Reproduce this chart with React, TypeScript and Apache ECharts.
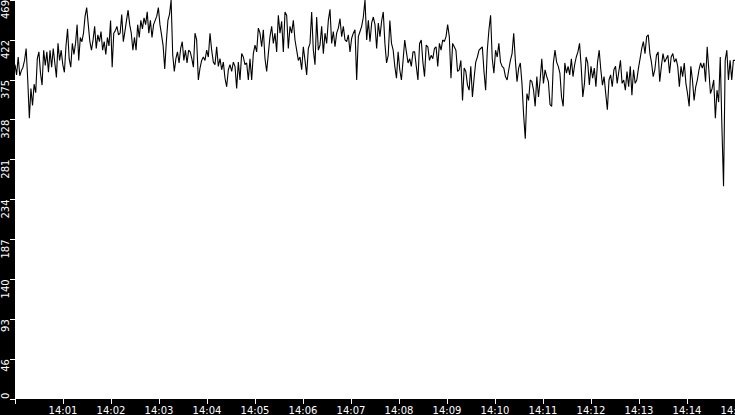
import React, { useEffect, useRef } from 'react';
import * as echarts from 'echarts';

// time window shown on the x axis
const startTime = new Date(2024, 0, 1, 14, 0, 0).getTime();
const endTime = new Date(2024, 0, 1, 14, 15, 0).getTime();

// y tick labels as printed on the chart
const yTickLabels = [0, 46, 93, 140, 187, 234, 281, 328, 375, 422, 469];

// readings, one block per 3m45s of the window
const part1 = [
  393, 381, 402, 380, 386, 390, 398, 412, 375, 330,
  365, 345, 370, 360, 400, 408, 383, 369, 410, 392,
  408, 384, 410, 390, 412, 395, 378, 418, 398, 410,
  393, 384, 415, 435, 400, 390, 418, 405, 418, 440,
  398, 425, 420, 430, 450, 460, 440, 420, 410, 422,
  438, 412, 428, 420, 432, 410, 420, 405, 425, 415,
  445, 390, 430, 433, 438, 428, 430, 452, 420, 432,
  445, 457, 440, 430, 410, 425, 410, 440, 425, 445,
  435, 448, 440, 455, 430, 445, 425, 440, 445, 450,
  460, 440, 428, 415, 388, 420, 445, 452, 469, 405,
  385, 400, 408, 395, 412, 420, 398, 410, 395, 410,
  408, 400, 390,
];

const part2 = [
  430, 422, 375, 389, 398, 402, 398, 410, 402, 430,
  410, 396, 393, 414, 391, 400, 387, 396, 377, 367,
  387, 393, 385, 396, 391, 365, 396, 375, 406, 402,
  393, 395, 375, 400, 375, 406, 416, 408, 436, 430,
  414, 434, 400, 385, 406, 426, 438, 418, 430, 408,
  451, 430, 444, 408, 455, 451, 412, 438, 430, 445,
  422, 410, 398, 402, 387, 414, 398, 381, 412, 418,
  455, 410, 393, 449, 410, 416, 438, 406, 430, 418,
  445, 458, 418, 432, 414, 430, 436, 447, 426, 438,
  422, 420, 428, 408, 424, 430, 434, 375, 426, 432,
  438, 449, 469, 422, 445, 420, 442, 449,
];

const part3 = [
  440, 412, 442, 426, 444, 455, 418, 395, 404, 445,
  418, 410, 391, 377, 408, 387, 375, 398, 422, 408,
  395, 400, 391, 408, 408, 391, 375, 418, 422, 396,
  379, 416, 414, 398, 404, 400, 412, 414, 391, 418,
  410, 422, 420, 426, 440, 426, 377, 418, 414, 410,
  385, 387, 398, 351, 389, 385, 369, 363, 391, 355,
  377, 396, 402, 410, 412, 414, 385, 363, 410, 434,
  451, 400, 383, 410, 402, 418, 396, 391, 389, 379,
  375, 387, 398, 406, 430, 398, 373, 389, 395, 371,
  334, 306, 359, 351, 375, 373, 363, 344, 379, 355,
  375, 400, 371, 387, 379, 373, 346, 344, 395,
];

const part4 = [
  410, 396, 391, 383, 355, 344, 395, 383, 391, 381,
  400, 379, 393, 402, 408, 418, 391, 355, 371, 402,
  395, 369, 391, 377, 389, 367, 396, 410, 387, 369,
  379, 359, 340, 375, 381, 367, 387, 391, 371, 385,
  398, 371, 375, 363, 385, 367, 391, 357, 387, 371,
  375, 389, 400, 412, 420, 406, 426, 428, 406, 395,
  379, 387, 404, 408, 373, 391, 406, 396, 400, 404,
  383, 402, 406, 396, 400, 391, 367, 391, 379, 395,
  371, 359, 344, 391, 375, 351, 367, 375, 387, 395,
  389, 395, 373, 414, 387, 359, 365, 375, 330, 363,
  349, 402, 320, 250, 398, 410, 375, 398, 375, 398,
];

const parts = [part1, part2, part3, part4];

const buildSeries = () => {
  const span = (endTime - startTime) / parts.length;
  const out: [number, number][] = [];
  parts.forEach((vals, k) => {
    vals.forEach((v, j) => {
      out.push([startTime + k * span + (j * span) / vals.length, v]);
    });
  });
  out.push([endTime, part4[part4.length - 1]]);
  return out;
};

const pad2 = (n: number) => String(n).padStart(2, '0');

const App: React.FC = () => {
  const chartRef = useRef<HTMLDivElement>(null);

  useEffect(() => {
    if (!chartRef.current) return;
    const chart = echarts.init(chartRef.current, undefined, { renderer: 'svg' });
    const font = "'DejaVu Sans', sans-serif";

    chart.setOption({
      animation: false,
      backgroundColor: '#000',
      grid: {
        left: 15,
        right: 0,
        top: 0,
        bottom: 16,
        containLabel: false,
        outerBoundsMode: 'none',
        show: true,
        backgroundColor: '#fff',
        borderWidth: 0,
      },
      xAxis: {
        type: 'time',
        min: startTime,
        max: endTime,
        minInterval: 60000,
        maxInterval: 60000,
        axisLine: { show: false },
        axisTick: { show: true, length: 5, lineStyle: { color: '#fff', width: 1 } },
        splitLine: { show: false },
        axisLabel: {
          color: '#fff',
          fontSize: 10,
          fontFamily: font,
          margin: 6,
          hideOverlap: false,
          showMaxLabel: true,
          formatter: (val: number) => {
            if (val <= startTime) return '';
            const d = new Date(val);
            return `${d.getHours()}:${pad2(d.getMinutes())}`;
          },
        },
      },
      yAxis: {
        type: 'value',
        min: 0,
        max: 469,
        interval: 46.9,
        axisLine: { show: false },
        axisTick: { show: true, length: 5, lineStyle: { color: '#fff', width: 1 } },
        splitLine: { show: false },
        axisLabel: {
          color: '#fff',
          fontSize: 10,
          fontFamily: font,
          rotate: 90,
          align: 'right',
          verticalAlign: 'middle',
          alignMinLabel: 'left',
          margin: 10,
          formatter: (_v: number, idx: number) => String(yTickLabels[idx] ?? ''),
        },
      },
      series: [
        {
          type: 'line',
          data: buildSeries(),
          showSymbol: false,
          symbol: 'none',
          lineStyle: { color: '#000', width: 1.1 },
        },
      ],
    });

    return () => chart.dispose();
  }, []);

  return (
    <div
      ref={chartRef}
      style={{ position: 'fixed', left: 0, top: 0, width: 735, height: 415 }}
    />
  );
};

export default App;
